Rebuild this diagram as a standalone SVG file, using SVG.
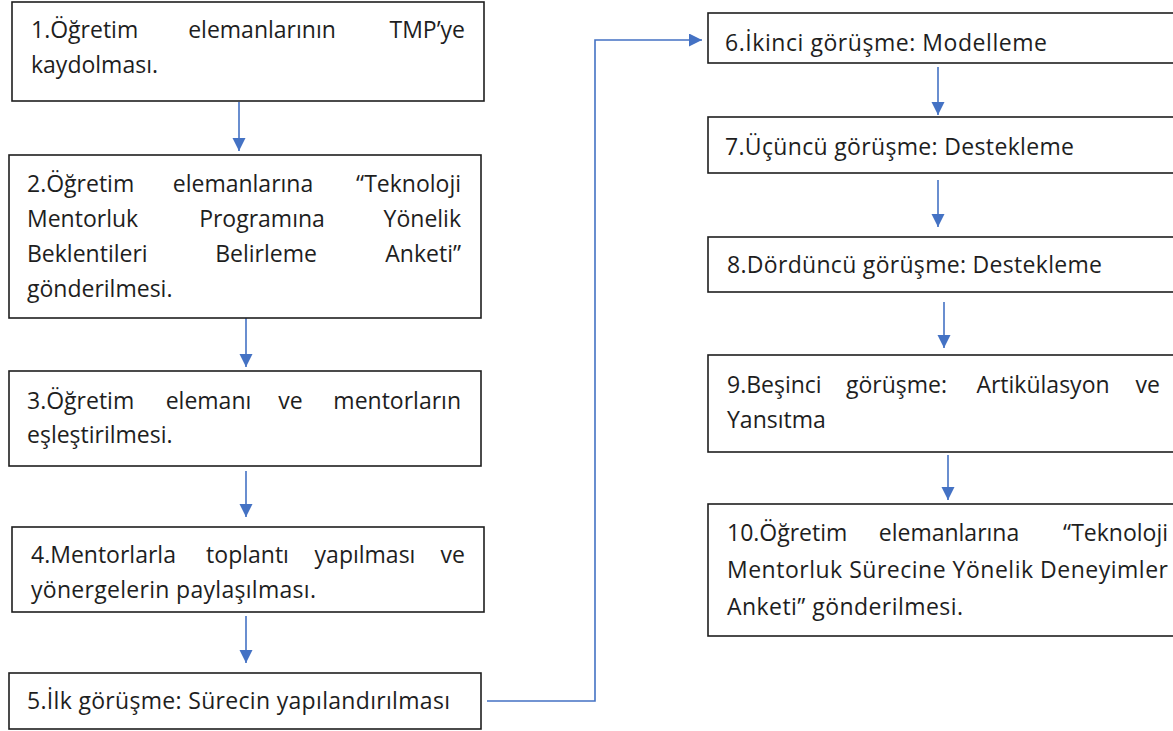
<svg xmlns="http://www.w3.org/2000/svg" width="1173" height="731" viewBox="0 0 1173 731">
<style>
.box{fill:#fff;stroke:#1e1e1e;stroke-width:1.6}
.t{font-family:"Open Sans","Noto Sans","Liberation Sans",sans-serif;font-size:23px;fill:#1e1e1e}
.m{text-anchor:middle}
.e{text-anchor:end}
.c{fill:none;stroke:#4472C4;stroke-width:1.6}
</style>
<defs>
<marker id="ah" markerUnits="userSpaceOnUse" markerWidth="14" markerHeight="14" refX="13" refY="6.5" orient="auto">
<path d="M0,0 L13,6.5 L0,13 z" fill="#4472C4"/>
</marker>
</defs>
<rect width="1173" height="731" fill="#fff"/>
<g id="connectors">
<line class="c" x1="239" y1="102" x2="239" y2="151" marker-end="url(#ah)"/>
<line class="c" x1="246" y1="318" x2="246" y2="367" marker-end="url(#ah)"/>
<line class="c" x1="246" y1="471" x2="246" y2="517" marker-end="url(#ah)"/>
<line class="c" x1="246" y1="616" x2="246" y2="663" marker-end="url(#ah)"/>
<polyline class="c" points="487,701 595,701 595,40 702,40" marker-end="url(#ah)"/>
<line class="c" x1="938" y1="67" x2="938" y2="115" marker-end="url(#ah)"/>
<line class="c" x1="938" y1="180" x2="938" y2="227" marker-end="url(#ah)"/>
<line class="c" x1="944" y1="302" x2="944" y2="348" marker-end="url(#ah)"/>
<line class="c" x1="948" y1="455" x2="948" y2="500" marker-end="url(#ah)"/>
</g>
<g id="n1">
<rect class="box" x="12" y="2" width="472" height="99"/>
<text class="t" x="31" y="38">1.Öğretim</text>
<text class="t m" x="262" y="38">elemanlarının</text>
<text class="t e" x="465" y="38">TMP’ye</text>
<text class="t" x="31" y="73">kaydolması.</text>
</g>
<g id="n2">
<rect class="box" x="9" y="155" width="472" height="163"/>
<text class="t" x="27" y="192">2.Öğretim</text>
<text class="t m" x="243" y="192">elemanlarına</text>
<text class="t e" x="461" y="192">“Teknoloji</text>
<text class="t" x="27" y="227">Mentorluk</text>
<text class="t m" x="262" y="227">Programına</text>
<text class="t e" x="461" y="227">Yönelik</text>
<text class="t" x="27" y="262">Beklentileri</text>
<text class="t m" x="266" y="262">Belirleme</text>
<text class="t e" x="461" y="262">Anketi”</text>
<text class="t" x="27" y="297">gönderilmesi.</text>
</g>
<g id="n3">
<rect class="box" x="9" y="371" width="472" height="95"/>
<text class="t" x="27" y="409">3.Öğretim</text>
<text class="t m" x="208.5" y="409">elemanı</text>
<text class="t m" x="290.5" y="409">ve</text>
<text class="t e" x="461" y="409">mentorların</text>
<text class="t" x="27" y="443">eşleştirilmesi.</text>
</g>
<g id="n4">
<rect class="box" x="12" y="527" width="472" height="85"/>
<text class="t" x="31" y="563">4.Mentorlarla</text>
<text class="t m" x="247.5" y="563">toplantı</text>
<text class="t m" x="365" y="563">yapılması</text>
<text class="t e" x="465" y="563">ve</text>
<text class="t" x="31" y="598" textLength="285" lengthAdjust="spacing">yönergelerin paylaşılması.</text>
</g>
<g id="n5">
<rect class="box" x="9" y="673" width="472" height="56"/>
<text class="t" x="27" y="709" textLength="423" lengthAdjust="spacing">5.İlk görüşme: Sürecin yapılandırılması</text>
</g>
<g id="n6">
<rect class="box" x="708" y="13" width="472" height="50"/>
<text class="t" x="725" y="51" textLength="322" lengthAdjust="spacing">6.İkinci görüşme: Modelleme</text>
</g>
<g id="n7">
<rect class="box" x="708" y="117" width="472" height="56"/>
<text class="t" x="725" y="155" textLength="349" lengthAdjust="spacing">7.Üçüncü görüşme: Destekleme</text>
</g>
<g id="n8">
<rect class="box" x="708" y="237" width="472" height="55"/>
<text class="t" x="727" y="273" textLength="375" lengthAdjust="spacing">8.Dördüncü görüşme: Destekleme</text>
</g>
<g id="n9">
<rect class="box" x="708" y="355" width="472" height="97"/>
<text class="t" x="727" y="393">9.Beşinci</text>
<text class="t m" x="896.5" y="393">görüşme:</text>
<text class="t m" x="1043" y="393">Artikülasyon</text>
<text class="t e" x="1160" y="393">ve</text>
<text class="t" x="727" y="428">Yansıtma</text>
</g>
<g id="n10">
<rect class="box" x="708" y="504" width="472" height="132"/>
<text class="t" x="727" y="541">10.Öğretim</text>
<text class="t m" x="949" y="541">elemanlarına</text>
<text class="t e" x="1168" y="541">“Teknoloji</text>
<text class="t" x="727" y="578" textLength="441" lengthAdjust="spacing">Mentorluk Sürecine Yönelik Deneyimler</text>
<text class="t" x="727" y="615" textLength="236" lengthAdjust="spacing">Anketi” gönderilmesi.</text>
</g>
</svg>
